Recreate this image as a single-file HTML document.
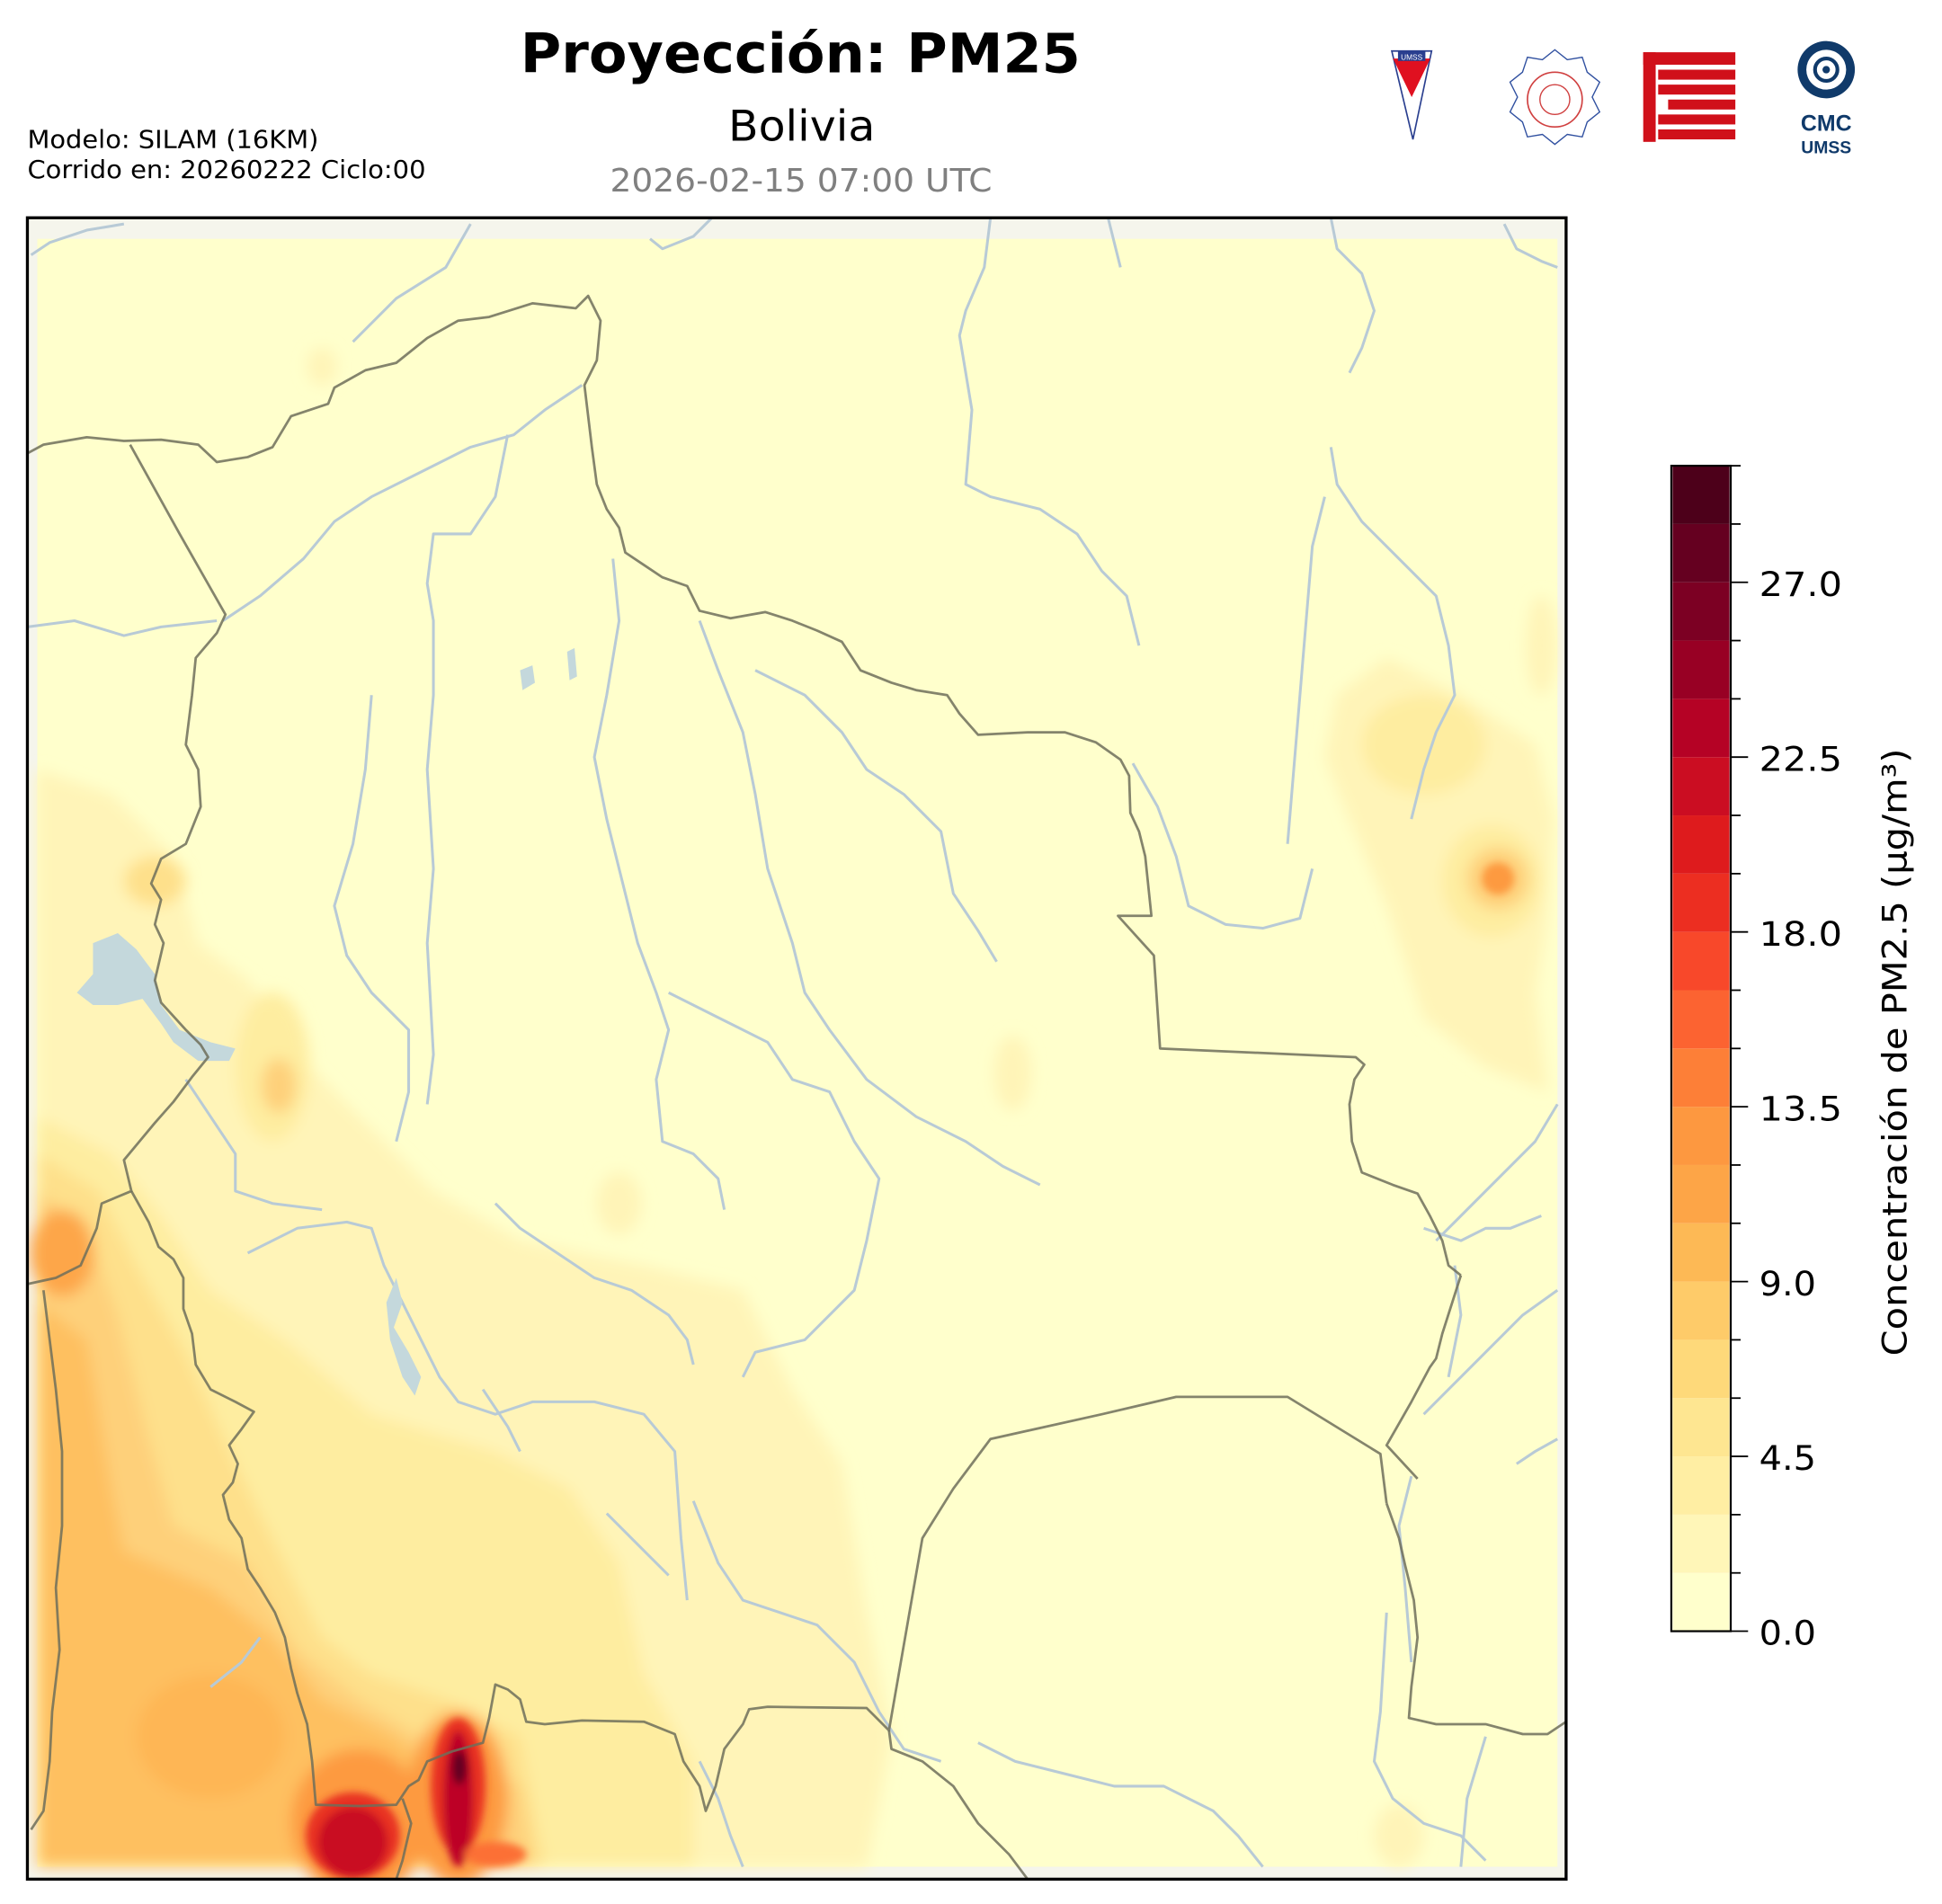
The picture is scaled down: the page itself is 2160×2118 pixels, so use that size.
<!DOCTYPE html>
<html><head><meta charset="utf-8"><style>
html,body{margin:0;padding:0;background:#fff;}
svg{display:block;}
</style></head><body>
<svg width="2160" height="2118" viewBox="0 0 1560 1530" preserveAspectRatio="none" xmlns="http://www.w3.org/2000/svg">
<defs>
<clipPath id="m"><rect x="22" y="175" width="1243" height="1340"/></clipPath>
<filter id="b" x="-20%" y="-20%" width="140%" height="140%"><feGaussianBlur stdDeviation="6"/></filter>
<filter id="b2" x="-20%" y="-20%" width="140%" height="140%"><feGaussianBlur stdDeviation="3"/></filter>
</defs>
<rect width="1560" height="1530" fill="#fff"/>
<!-- titles -->
<text x="418" y="58" font-family="DejaVu Sans, Liberation Sans, sans-serif" font-weight="bold" font-size="44" textLength="450" lengthAdjust="spacingAndGlyphs">Proyección: PM25</text>
<text x="585" y="113" font-family="DejaVu Sans, Liberation Sans, sans-serif" font-size="34" textLength="118" lengthAdjust="spacingAndGlyphs">Bolivia</text>
<text x="490" y="154" font-family="DejaVu Sans, Liberation Sans, sans-serif" font-size="26" fill="#808080" textLength="307" lengthAdjust="spacingAndGlyphs">2026-02-15 07:00 UTC</text>
<text x="22" y="119" font-family="DejaVu Sans, Liberation Sans, sans-serif" font-size="20" textLength="234" lengthAdjust="spacingAndGlyphs">Modelo: SILAM (16KM)</text>
<text x="22" y="143" font-family="DejaVu Sans, Liberation Sans, sans-serif" font-size="20" textLength="320" lengthAdjust="spacingAndGlyphs">Corrido en: 20260222 Ciclo:00</text>
<!-- logos -->
<polygon points="1118,41 1150,41 1135,112" fill="#fff" stroke="#2a3f8f" stroke-width="1.2"/>
<polygon points="1119,47 1149,47 1134,78" fill="#e01020"/>
<rect x="1123" y="41" width="22" height="8" fill="#2a3f8f"/>
<text x="1134" y="48" font-size="6" fill="#fff" text-anchor="middle" font-family="Liberation Sans, sans-serif">UMSS</text>
<path d="M1249,40 l10,8 12,-2 4,12 10,8 -6,12 6,12 -10,8 -4,12 -12,-2 -10,8 -10,-8 -12,2 -4,-12 -10,-8 6,-12 -6,-12 10,-8 4,-12 12,2z" fill="#fff" stroke="#3050a0" stroke-width="1"/>
<circle cx="1249" cy="80" r="22" fill="none" stroke="#d04040" stroke-width="1.2"/>
<circle cx="1249" cy="80" r="12" fill="none" stroke="#d04040" stroke-width="1"/>
<g fill="#d0101a">
<rect x="1320" y="42" width="10" height="72"/>
<rect x="1320" y="42" width="74" height="10"/>
<rect x="1332" y="56" width="62" height="8"/>
<rect x="1332" y="68" width="62" height="8"/>
<rect x="1340" y="80" width="54" height="8"/>
<rect x="1332" y="92" width="62" height="8"/>
<rect x="1332" y="104" width="62" height="8"/>
</g>
<circle cx="1467" cy="56" r="23" fill="#103a6a"/>
<circle cx="1467" cy="56" r="16" fill="#fff"/>
<circle cx="1467" cy="56" r="9" fill="none" stroke="#103a6a" stroke-width="3"/>
<circle cx="1467" cy="56" r="3" fill="#103a6a"/>
<text x="1467" y="105" font-family="Liberation Sans, sans-serif" font-weight="bold" font-size="18" fill="#103a6a" text-anchor="middle">CMC</text>
<text x="1467" y="123" font-family="Liberation Sans, sans-serif" font-weight="bold" font-size="14" fill="#103a6a" text-anchor="middle">UMSS</text>

<g transform="translate(0.123,0.65) scale(0.9944,0.9963)">
<!-- map -->
<g clip-path="url(#m)">
<rect x="22" y="175" width="1243" height="1340" fill="#f5f5ec"/>
<rect x="30" y="192" width="1228" height="1313" fill="#ffffcc"/>
<g filter="url(#b)">
<path d="M30,620 L90,640 L140,690 L160,760 L200,790 L250,860 L290,900 L350,960 L420,1000 L520,1020 L600,1040 L640,1120 L680,1180 L700,1300 L720,1400 L700,1505 L30,1505Z" fill="#fff4b8"/>
<path d="M30,900 L90,930 L130,980 L170,1040 L230,1080 L300,1140 L400,1170 L460,1200 L500,1260 L520,1350 L560,1420 L560,1505 L30,1505Z" fill="#feeda0"/>
<path d="M30,930 L80,960 L110,1020 L150,1090 L190,1180 L230,1260 L260,1320 L300,1350 L360,1370 L420,1400 L440,1505 L30,1505Z" fill="#fee08b"/>
<path d="M30,960 L70,990 L95,1060 L120,1160 L140,1230 L200,1260 L240,1330 L290,1370 L340,1400 L420,1440 L430,1505 L30,1505Z" fill="#fed07a"/>
<path d="M30,1050 L70,1080 L90,1200 L100,1250 L170,1280 L220,1320 L260,1370 L320,1400 L400,1470 L410,1505 L30,1505Z" fill="#fec061"/>
<ellipse cx="50" cy="1010" rx="26" ry="35" fill="#fda64a"/>
<ellipse cx="170" cy="1400" rx="60" ry="50" fill="#feb655"/>
<ellipse cx="220" cy="860" rx="30" ry="60" fill="#feeda0"/>
<ellipse cx="225" cy="875" rx="14" ry="22" fill="#fed07a"/>
<ellipse cx="125" cy="710" rx="25" ry="20" fill="#fee08b"/>
<ellipse cx="290" cy="1470" rx="55" ry="60" fill="#fd9a41"/>
<ellipse cx="370" cy="1450" rx="40" ry="70" fill="#fd9a41"/>
<path d="M1080,560 L1120,530 L1180,560 L1240,600 L1255,660 L1250,740 L1240,800 L1250,880 L1200,860 L1150,820 L1120,730 L1090,660 L1070,610Z" fill="#fff4b8"/>
<ellipse cx="1150" cy="600" rx="50" ry="40" fill="#feeda0"/>
<ellipse cx="1205" cy="710" rx="40" ry="45" fill="#feeda0"/>
<ellipse cx="1210" cy="708" rx="25" ry="25" fill="#fed07a"/>
<ellipse cx="1245" cy="520" rx="12" ry="40" fill="#fff4b8"/>
<ellipse cx="818" cy="865" rx="15" ry="30" fill="#fff4b8"/>
<ellipse cx="500" cy="970" rx="18" ry="25" fill="#fff4b8"/>
<ellipse cx="260" cy="295" rx="12" ry="15" fill="#fff4b8"/>
<ellipse cx="650" cy="1210" rx="25" ry="45" fill="#fff4b8"/>
<ellipse cx="1130" cy="1480" rx="20" ry="25" fill="#fff4b8"/>
</g>
<g filter="url(#b2)">
<ellipse cx="1210" cy="708" rx="13" ry="13" fill="#fd9a41"/>
<ellipse cx="285" cy="1480" rx="38" ry="35" fill="#e83020"/>
<ellipse cx="285" cy="1485" rx="28" ry="28" fill="#c90a24"/>
<ellipse cx="370" cy="1440" rx="22" ry="55" fill="#e83020"/>
<ellipse cx="370" cy="1450" rx="12" ry="55" fill="#bd0026"/>
<ellipse cx="371" cy="1425" rx="6" ry="14" fill="#600020"/>
<ellipse cx="400" cy="1495" rx="25" ry="10" fill="#fc7035"/>
</g>
<g fill="none" stroke="#b8cad6" stroke-width="2.2" stroke-linejoin="round">
<path d="M25,205 L40,195 L70,185 L100,180"/>
<path d="M285,275 L320,240 L360,215 L380,180"/>
<path d="M525,192 L535,200 L560,190 L575,175"/>
<path d="M800,175 L795,215 L780,250 L775,270 L785,330 L780,390 L800,400 L840,410 L870,430 L890,460 L910,480 L920,520"/>
<path d="M895,175 L905,215"/>
<path d="M1075,175 L1080,200 L1100,220 L1110,250 L1100,280 L1090,300"/>
<path d="M1215,180 L1225,200 L1245,210 L1258,215"/>
<path d="M22,505 L60,500 L100,512 L130,505 L175,500"/>
<path d="M470,310 L440,330 L415,350 L380,360 L340,380 L300,400 L270,420 L245,450 L210,480 L180,500"/>
<path d="M410,350 L400,400 L380,430 L350,430 L345,470 L350,500 L350,560 L345,620 L350,700 L345,760 L350,850 L345,890"/>
<path d="M300,560 L295,620 L285,680 L270,730 L280,770 L300,800 L330,830 L330,880 L320,920"/>
<path d="M495,450 L500,500 L490,560 L480,610 L490,660 L500,700 L515,760 L530,800 L540,830 L530,870 L535,920 L560,930 L580,950 L585,975"/>
<path d="M540,800 L580,820 L620,840 L640,870 L670,880 L690,920 L710,950 L700,1000 L690,1040 L650,1080 L610,1090 L600,1110"/>
<path d="M565,500 L580,540 L600,590 L610,640 L620,700 L640,760 L650,800 L670,830 L700,870 L740,900 L780,920 L810,940 L840,955"/>
<path d="M610,540 L650,560 L680,590 L700,620 L730,640 L760,670 L770,720 L790,750 L805,775"/>
<path d="M915,615 L935,650 L950,690 L960,730 L990,745 L1020,748 L1050,740 L1060,700"/>
<path d="M1075,360 L1080,390 L1100,420 L1130,450 L1160,480 L1170,520 L1175,560 L1160,590 L1150,620 L1140,660"/>
<path d="M1070,400 L1060,440 L1055,500 L1050,560 L1045,620 L1040,680"/>
<path d="M1258,890 L1240,920 L1210,950 L1180,980 L1160,1000"/>
<path d="M1150,990 L1180,1000 L1200,990 L1220,990 L1245,980"/>
<path d="M1258,1040 L1230,1060 L1200,1090 L1170,1120 L1150,1140"/>
<path d="M1175,1020 L1180,1060 L1170,1110"/>
<path d="M1140,1190 L1130,1230 L1135,1280 L1140,1340"/>
<path d="M790,1405 L820,1420 L860,1430 L900,1440 L940,1440 L980,1460 L1000,1480 L1020,1505"/>
<path d="M1120,1300 L1115,1380 L1110,1420 L1125,1450 L1150,1470 L1180,1480 L1200,1500"/>
<path d="M1200,1400 L1185,1450 L1180,1505"/>
<path d="M1258,1160 L1240,1170 L1225,1180"/>
<path d="M200,1010 L240,990 L280,985 L300,990 L310,1020 L320,1040 L330,1060 L340,1080 L355,1110 L370,1130 L400,1140 L430,1130 L480,1130 L520,1140 L545,1170 L550,1240 L555,1290"/>
<path d="M390,1120 L410,1150 L420,1170"/>
<path d="M400,970 L420,990 L450,1010 L480,1030 L510,1040 L540,1060 L555,1080 L560,1100"/>
<path d="M150,870 L170,900 L190,930 L190,960 L220,970 L260,975"/>
<path d="M170,1360 L195,1340 L210,1320"/>
<path d="M565,1420 L580,1450 L590,1480 L600,1505"/>
<path d="M560,1210 L580,1260 L600,1290 L630,1300 L660,1310 L690,1340 L710,1380 L730,1410 L760,1420"/>
<path d="M490,1220 L520,1250 L540,1270"/>
</g>
<path d="M75,760 L95,752 L110,765 L125,785 L130,810 L145,830 L170,840 L190,845 L185,855 L160,855 L140,840 L130,825 L115,805 L95,810 L75,810 L62,800 L75,785Z" fill="#c4d8dc"/>
<path d="M320,1030 L325,1050 L318,1070 L330,1090 L340,1110 L335,1125 L325,1110 L315,1080 L312,1050Z" fill="#c4d8dc"/>
<path d="M420,540 L430,536 L432,550 L422,556Z" fill="#c4d8dc"/>
<path d="M458,525 L464,522 L466,545 L460,548Z" fill="#c4d8dc"/>
<g fill="none" stroke="#6e6e5a" stroke-width="2" stroke-opacity="0.85" stroke-linejoin="round">
<path d="M22,365 L35,358 L70,352 L100,355 L130,354 L160,358 L175,372 L200,368 L220,360 L235,335 L265,325 L270,312 L295,298 L320,292 L345,272 L370,258 L395,255 L430,244 L465,248 L475,238 L485,258 L482,290 L472,310 L478,360 L482,390 L490,410 L500,425 L505,445 L520,455 L535,465 L555,472 L565,492 L590,498 L618,493 L640,500 L660,508 L680,517 L695,540 L720,550 L740,556 L765,560 L775,575 L790,592 L830,590 L860,590 L885,598 L905,612 L912,625 L913,655 L920,670 L925,690 L930,738 L903,738 L932,770 L937,845 L1095,852 L1102,858 L1094,870 L1090,890 L1092,920 L1100,945 L1125,955 L1145,962 L1155,980 L1165,1000 L1170,1020 L1180,1028"/>
<path d="M105,358 L145,430 L182,495 L175,510 L158,530 L155,560 L150,600 L160,620 L162,650 L150,680 L130,692 L122,712 L130,725 L125,745 L132,760 L125,790 L130,808 L150,830 L162,842 L168,852 L155,868 L140,888 L125,905 L100,935 L106,960 L82,970 L78,990 L65,1020 L45,1030 L22,1035"/>
<path d="M106,960 L120,985 L128,1005 L140,1015 L148,1030 L148,1055 L155,1075 L158,1100 L170,1120 L190,1130 L205,1138 L195,1152 L185,1165 L192,1180 L188,1195 L180,1205 L185,1225 L195,1240 L200,1265 L210,1280 L222,1300 L230,1320 L235,1345 L240,1365 L248,1390 L252,1420 L255,1455 L290,1456 L320,1455 L330,1440 L338,1435 L345,1420 L365,1412 L390,1405 L395,1385 L400,1358 L410,1362 L420,1370 L425,1388 L440,1390 L470,1387 L520,1388 L545,1398 L552,1420 L565,1440 L570,1460 L578,1440 L585,1410 L600,1390 L605,1378 L620,1376 L700,1377 L718,1395 L745,1240 L770,1200 L800,1160 L890,1140 L950,1126 L1040,1126 L1115,1172 L1120,1212"/>
<path d="M1180,1028 L1165,1075 L1160,1095 L1155,1102 L1140,1130 L1120,1165 L1145,1192"/>
<path d="M718,1395 L720,1410 L745,1420 L770,1440 L790,1470 L815,1495 L830,1515"/>
<path d="M1120,1212 L1130,1240 L1135,1262 L1142,1290 L1145,1320 L1140,1360 L1138,1385 L1160,1390 L1200,1390 L1230,1398 L1250,1398 L1265,1388"/>
<path d="M35,1040 L40,1080 L45,1120 L50,1170 L50,1230 L45,1280 L48,1330 L42,1380 L40,1420 L35,1460 L25,1475"/>
<path d="M325,1450 L332,1470 L325,1500 L320,1515"/>
</g>
</g>
<rect x="22" y="175" width="1243" height="1340" fill="none" stroke="#000" stroke-width="2.4"/>

<!-- colorbar -->
<rect x="1351" y="1268" width="46" height="47" fill="#ffffcc"/>
<rect x="1351" y="1221" width="46" height="47" fill="#fff6b8"/>
<rect x="1351" y="1174" width="46" height="47" fill="#ffeea3"/>
<rect x="1351" y="1127" width="46" height="47" fill="#fee691"/>
<rect x="1351" y="1080" width="46" height="47" fill="#fed97a"/>
<rect x="1351" y="1033" width="46" height="47" fill="#fecb69"/>
<rect x="1351" y="986" width="46" height="47" fill="#fdb955"/>
<rect x="1351" y="939" width="46" height="47" fill="#fda547"/>
<rect x="1351" y="892" width="46" height="47" fill="#fd9840"/>
<rect x="1351" y="845" width="46" height="47" fill="#fd7f37"/>
<rect x="1351" y="798" width="46" height="47" fill="#fc6331"/>
<rect x="1351" y="751" width="46" height="47" fill="#f8482a"/>
<rect x="1351" y="704" width="46" height="47" fill="#ec2e21"/>
<rect x="1351" y="657" width="46" height="47" fill="#de1b1d"/>
<rect x="1351" y="610" width="46" height="47" fill="#cb0d22"/>
<rect x="1351" y="563" width="46" height="47" fill="#b50225"/>
<rect x="1351" y="516" width="46" height="47" fill="#980024"/>
<rect x="1351" y="469" width="46" height="47" fill="#7c0023"/>
<rect x="1351" y="422" width="46" height="47" fill="#650020"/>
<rect x="1351" y="375" width="46" height="47" fill="#4d001a"/>
<rect x="1350" y="375" width="48" height="940" fill="none" stroke="#000" stroke-width="1.6"/>
<g stroke="#000" stroke-width="1.3">
<line x1="1398" y1="1315" x2="1412" y2="1315"/><line x1="1398" y1="1174" x2="1412" y2="1174"/><line x1="1398" y1="1033" x2="1412" y2="1033"/><line x1="1398" y1="892" x2="1412" y2="892"/><line x1="1398" y1="751" x2="1412" y2="751"/><line x1="1398" y1="610" x2="1412" y2="610"/><line x1="1398" y1="469" x2="1412" y2="469"/>
<line x1="1398" y1="1268" x2="1406" y2="1268"/><line x1="1398" y1="1221" x2="1406" y2="1221"/><line x1="1398" y1="1127" x2="1406" y2="1127"/><line x1="1398" y1="1080" x2="1406" y2="1080"/><line x1="1398" y1="986" x2="1406" y2="986"/><line x1="1398" y1="939" x2="1406" y2="939"/><line x1="1398" y1="845" x2="1406" y2="845"/><line x1="1398" y1="798" x2="1406" y2="798"/><line x1="1398" y1="704" x2="1406" y2="704"/><line x1="1398" y1="657" x2="1406" y2="657"/><line x1="1398" y1="563" x2="1406" y2="563"/><line x1="1398" y1="516" x2="1406" y2="516"/><line x1="1398" y1="422" x2="1406" y2="422"/><line x1="1398" y1="375" x2="1406" y2="375"/>
</g>
<g font-family="DejaVu Sans, Liberation Sans, sans-serif" font-size="27">
<text x="1421" y="1326" textLength="46" lengthAdjust="spacingAndGlyphs">0.0</text>
<text x="1421" y="1185" textLength="46" lengthAdjust="spacingAndGlyphs">4.5</text>
<text x="1421" y="1044" textLength="46" lengthAdjust="spacingAndGlyphs">9.0</text>
<text x="1421" y="903" textLength="67" lengthAdjust="spacingAndGlyphs">13.5</text>
<text x="1421" y="762" textLength="67" lengthAdjust="spacingAndGlyphs">18.0</text>
<text x="1421" y="621" textLength="67" lengthAdjust="spacingAndGlyphs">22.5</text>
<text x="1421" y="480" textLength="67" lengthAdjust="spacingAndGlyphs">27.0</text>
</g>
<text transform="translate(1540,848) rotate(-90)" font-family="DejaVu Sans, Liberation Sans, sans-serif" font-size="27" text-anchor="middle" textLength="490" lengthAdjust="spacingAndGlyphs">Concentración de PM2.5 (μg/m³)</text>
</g>
</svg>
</body></html>
